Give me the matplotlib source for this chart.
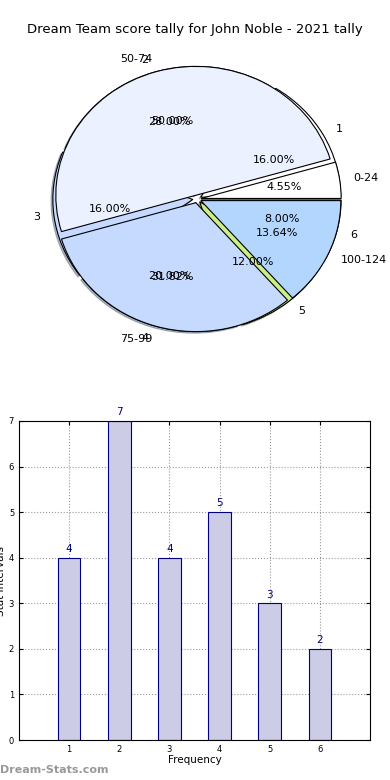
import matplotlib.pyplot as plt

# score tallies (pie 1 / bars) and score ranges (pie 2)
tally_labels = ["1", "2", "3", "4", "5", "6"]
tally_values = [4, 7, 4, 5, 3, 2]
range_labels = ["0-24", "50-74", "75-99", "100-124"]
range_values = [1, 11, 7, 3]

palette = ["white", "#EBF1FF", "#C6D9FF", "#B3D6FF", "#CCEE88", "#99BBEE"]

fig = plt.figure(figsize=(3.9, 7.8), dpi=100)

fig.text(0.5, 1 - 30 / 780, "Dream Team score tally for John Noble - 2021 tally",
         ha="center", va="center", fontsize=9.5)

# Pie axes (elliptical, as in the reference)
ax1 = fig.add_axes([8 / 390, 1 - 373 / 780, 378 / 390, 348 / 780])
ax1.pie(tally_values, labels=tally_labels, colors=palette[:6], autopct="%1.2f%%",
        explode=[0.03] * 6, shadow={"ox": -0.009, "oy": -0.009, "shade": 0.5},
        wedgeprops=dict(edgecolor="black", linewidth=0.8),
        textprops=dict(fontsize=8))
ax1.pie(range_values, labels=range_labels, colors=palette[:4], autopct="%1.2f%%",
        explode=[0.03] * 4,
        wedgeprops=dict(edgecolor="black", linewidth=0.8),
        textprops=dict(fontsize=8))
ax1.set_aspect("auto")
ax1.set_xlim(-1.35, 1.35)
ax1.set_ylim(-1.35, 1.35)
ax1.axis("off")

# Bar chart
ax2 = fig.add_axes([19 / 390, 40 / 780, 351 / 390, 319 / 780])
xs = list(range(1, len(tally_values) + 1))
ax2.bar(xs, tally_values, width=0.45, color="#CCCCE6", edgecolor="#000080",
        linewidth=0.8, zorder=2)
for x, v in zip(xs, tally_values):
    ax2.text(x, v + 0.08, str(v), ha="center", va="bottom", fontsize=7.5,
             color="#000080")
ax2.set_xlim(0, 7)
ax2.set_ylim(0, 7)
ax2.set_xticks(xs)
ax2.set_yticks(range(0, 8))
ax2.tick_params(direction="in", top=True, right=True, labelsize=6, length=3)
ax2.grid(True, linestyle=":", color="#999999", linewidth=0.8, zorder=0)
ax2.set_axisbelow(True)
ax2.set_xlabel("Frequency", fontsize=7.5, labelpad=1)
ax2.set_ylabel("Stat Intervals", fontsize=7.5, labelpad=2)

fig.text(0.0, 1 - 770 / 780, "Dream-Stats.com", ha="left", va="center",
         fontsize=8, color="#999999", fontweight="bold")

fig.savefig("out.png", dpi=100)
